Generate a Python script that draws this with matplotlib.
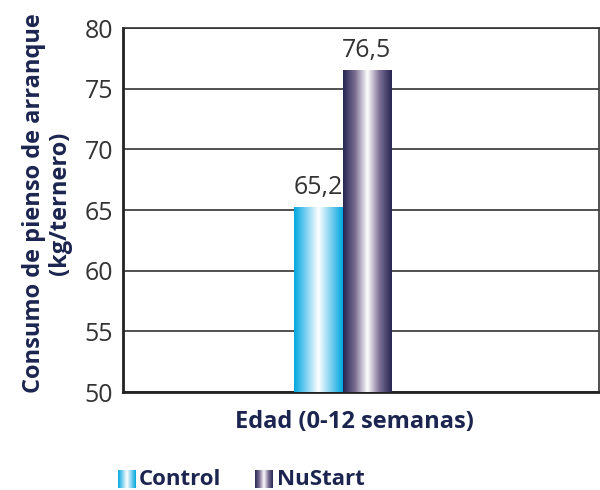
import numpy as np
import matplotlib
matplotlib.use("Agg")
import matplotlib.pyplot as plt
from matplotlib.colors import LinearSegmentedColormap

categories = ["Control", "NuStart"]
values = [65.2, 76.5]
value_labels = ["65,2", "76,5"]
yticks = [50, 55, 60, 65, 70, 75, 80]
xlabel = "Edad (0-12 semanas)"
ylabel = "Consumo de pienso de arranque\n(kg/ternero)"

navy = "#1c2550"
txt = "#333333"
font = "Open Sans"

cmaps = {
    "Control": LinearSegmentedColormap.from_list(
        "c", ["#00a8df", "#7fd0f0", "#ffffff", "#7fd0f0", "#00a8df"]),
    "NuStart": LinearSegmentedColormap.from_list(
        "n", ["#262551", "#7b6f93", "#ffffff", "#7b6f93", "#262551"]),
}

fig = plt.figure(figsize=(6.0, 4.9), dpi=100)
ax = fig.add_axes([123/600, 1-392/490, 476/600, 364/490])
ax.set_xlim(0, 1)
ax.set_ylim(50, 80)

grad = np.linspace(0, 1, 256).reshape(1, -1)
lefts = [0.359, 0.462]
width = 0.101
for cat, v, lab, l in zip(categories, values, value_labels, lefts):
    ax.imshow(grad, cmap=cmaps[cat], extent=[l, l + width, 50, v],
              aspect="auto", zorder=3, interpolation="bicubic")
    ax.text(l + width/2, v + 0.6, lab, ha="center", va="bottom",
            fontsize=18, color=txt, family=font, zorder=4)

ax.set_yticks(yticks)
ax.set_yticklabels([str(t) for t in yticks], fontsize=18, color=txt,
                   family=font)
ax.set_xticks([])
ax.yaxis.grid(True, color="#333333", linewidth=1.2, zorder=1)
ax.set_axisbelow(True)
ax.tick_params(axis="y", length=0, pad=7)
for s in ["left", "bottom"]:
    ax.spines[s].set_linewidth(2)
    ax.spines[s].set_color("#222222")
for s in ["top", "right"]:
    ax.spines[s].set_linewidth(1.2)
    ax.spines[s].set_color("#333333")

fig.text(47/600, 1-203/490, ylabel, rotation=90, fontsize=17, fontweight="bold",
         color=navy, family=font, ha="center", va="center",
         multialignment="center", linespacing=1.15)
fig.text(354/600, 1-422/490, xlabel, fontsize=17, fontweight="bold",
         color=navy, family=font, ha="center", va="center")

# legend
leg_items = [("Control", 118, 139), ("NuStart", 255, 277)]
for cat, sx, tx in leg_items:
    sax = fig.add_axes([sx/600, 1-488/490, 18/600, 18/490])
    sax.imshow(grad, cmap=cmaps[cat], aspect="auto", interpolation="bicubic")
    sax.axis("off")
    fig.text(tx/600, 1-479/490, cat, fontsize=16, fontweight="bold",
             color=navy, family=font, va="center", ha="left")

fig.savefig("out.png", dpi=100)
